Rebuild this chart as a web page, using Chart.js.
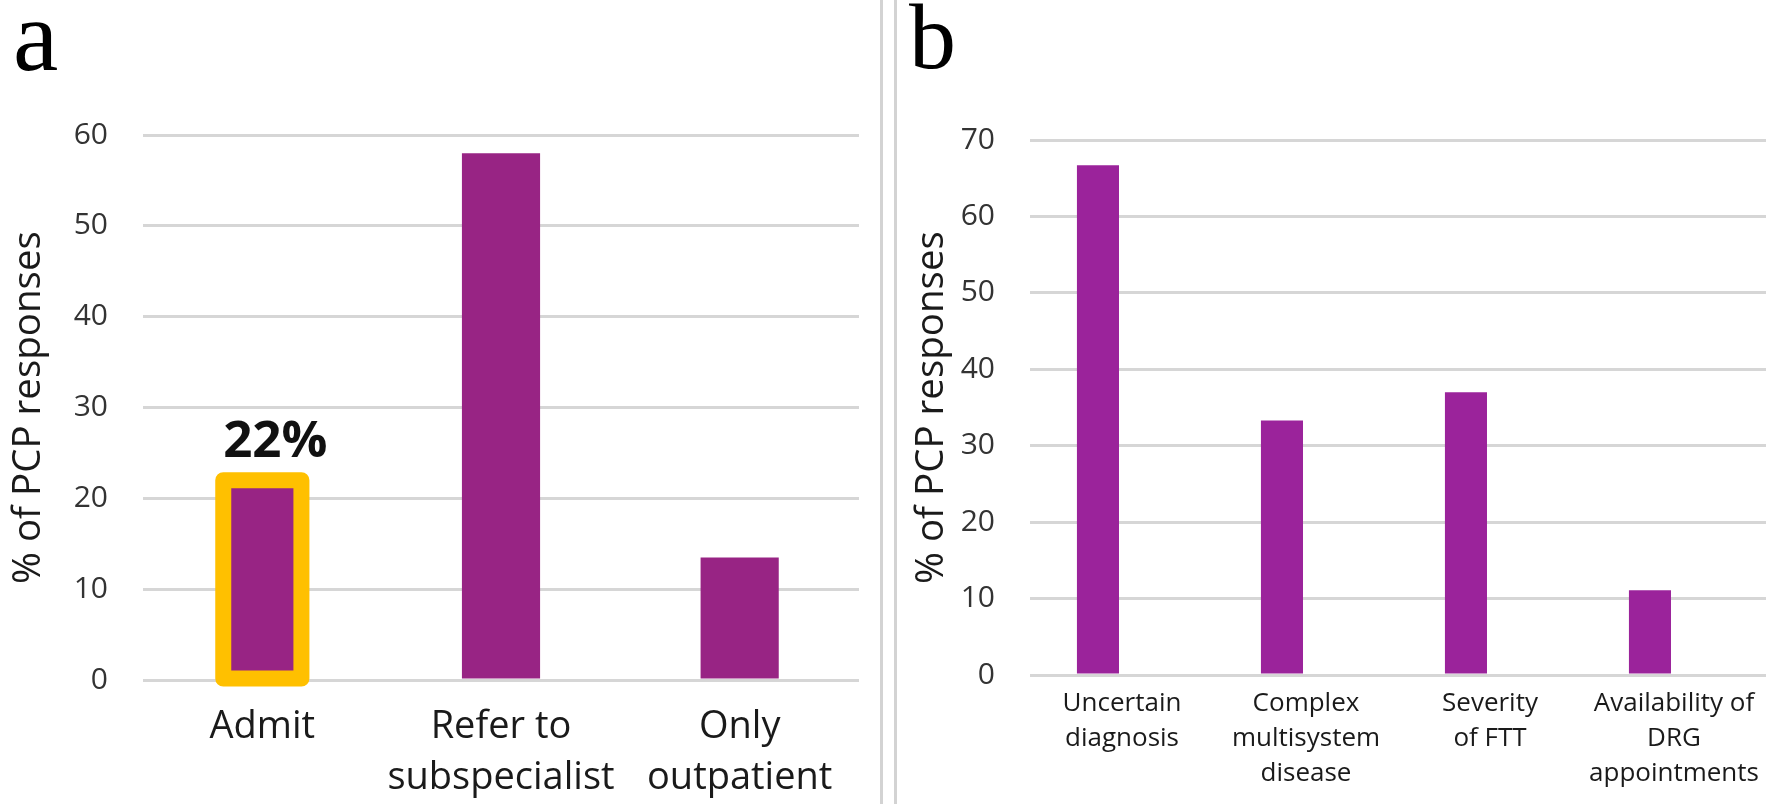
<!DOCTYPE html>
<html><head><meta charset="utf-8">
<script src="https://cdn.jsdelivr.net/npm/chart.js@4.4.1/dist/chart.umd.min.js"></script>
<style>
html,body{margin:0;padding:0;background:#fff;}
#wrap{position:relative;width:1772px;height:804px;overflow:hidden;background:#fff;}
#pa{position:absolute;left:0;top:0;width:880px;height:804px;}
#pb{position:absolute;left:897px;top:0;width:875px;height:804px;}
.sep{position:absolute;top:0;width:3px;height:804px;background:#d3d3d3;}
</style></head>
<body>
<div id="wrap">
  <div id="pa"><canvas id="ca"></canvas></div>
  <div class="sep" style="left:880px"></div>
  <div class="sep" style="left:894px"></div>
  <div id="pb"><canvas id="cb"></canvas></div>
</div>
<script>
// ---- data ----
const categoriesA = ['Admit', ['Refer to', 'subspecialist'], ['Only', 'outpatient']];
const valuesA = [22, 58, 13.5];
const ticksA = [0, 10, 20, 30, 40, 50, 60];
const highlightIndexA = 0;

const categoriesB = [['Uncertain', 'diagnosis'], ['Complex', 'multisystem', 'disease'], ['Severity', 'of FTT'], ['Availability of', 'DRG', 'appointments']];
const valuesB = [66.7, 33.3, 37.0, 11.1];
const ticksB = [0, 10, 20, 30, 40, 50, 60, 70];

const yTitle = '% of PCP responses';
const FONT = '"Open Sans", "DejaVu Sans", sans-serif';

function letterPlugin(letter, x, y, size) {
  return {
    id: 'letter_' + letter,
    afterDraw(chart) {
      const ctx = chart.ctx;
      ctx.save();
      ctx.font = size + 'px "Liberation Serif", "DejaVu Serif", serif';
      ctx.fillStyle = '#000';
      ctx.textAlign = 'left';
      ctx.textBaseline = 'alphabetic';
      ctx.fillText(letter, x, y);
      ctx.restore();
    }
  };
}

const highlightPlugin = {
  id: 'highlight',
  afterDatasetsDraw(chart) {
    const bar = chart.getDatasetMeta(0).data[highlightIndexA];
    const p = bar.getProps(['x', 'y', 'base', 'width'], true);
    const ctx = chart.ctx;
    ctx.save();
    ctx.strokeStyle = '#FFC000';
    ctx.lineWidth = 16;
    ctx.lineJoin = 'round';
    ctx.strokeRect(p.x - p.width / 2, p.y, p.width, p.base - p.y);
    ctx.font = 'bold 51px ' + FONT;
    ctx.fillStyle = '#111';
    ctx.textAlign = 'center';
    ctx.textBaseline = 'alphabetic';
    ctx.fillText(Math.round(valuesA[highlightIndexA]) + '%', p.x + 13, p.y - 23);
    ctx.restore();
  }
};

function yScale(max, tickList, width, titlePadTop) {
  return {
    min: 0, max: max,
    afterBuildTicks(s) { s.ticks = tickList.map(v => ({ value: v })); },
    grid: { color: '#d6d6d6', lineWidth: 3, drawTicks: false },
    border: { display: false },
    ticks: { font: { family: FONT, size: 30 }, color: '#333333', padding: 35 },
    title: { display: true, text: yTitle, color: '#1a1a1a', font: { family: FONT, size: 38.5 }, padding: { top: titlePadTop, bottom: 0 } },
    afterFit(s) { s.width = width; }
  };
}

function draw() {
  new Chart(document.getElementById('ca'), {
    type: 'bar',
    data: {
      labels: categoriesA,
      datasets: [{ data: valuesA, backgroundColor: '#982484', categoryPercentage: 0.5, barPercentage: 0.655 }]
    },
    options: {
      responsive: true, maintainAspectRatio: false, animation: false,
      layout: { padding: { left: 0, right: 21, top: 135, bottom: 0 } },
      plugins: { legend: { display: false }, tooltip: { enabled: false } },
      scales: {
        x: {
          grid: { display: false, drawTicks: false }, border: { display: false },
          ticks: { font: { family: FONT, size: 38, lineHeight: 1.33 }, color: '#1a1a1a', padding: 22, maxRotation: 0, autoSkip: false },
          afterFit(s) { s.height = 124; }
        },
        y: yScale(60, ticksA, 143, 6)
      }
    },
    plugins: [highlightPlugin, letterPlugin('a', 13, 70, 102)]
  });

  new Chart(document.getElementById('cb'), {
    type: 'bar',
    data: {
      labels: categoriesB,
      datasets: [
        { data: valuesB, backgroundColor: '#9B239B', categoryPercentage: 0.5225, barPercentage: 0.875 },
        { data: valuesB.map(() => null), backgroundColor: 'rgba(0,0,0,0)', categoryPercentage: 0.5225, barPercentage: 0.875 }
      ]
    },
    options: {
      responsive: true, maintainAspectRatio: false, animation: false,
      layout: { padding: { left: 0, right: 6, top: 140, bottom: 0 } },
      plugins: { legend: { display: false }, tooltip: { enabled: false } },
      scales: {
        x: {
          grid: { display: false, drawTicks: false }, border: { display: false },
          ticks: { font: { family: FONT, size: 26, lineHeight: 1.35 }, color: '#1a1a1a', padding: 11, maxRotation: 0, autoSkip: false },
          afterFit(s) { s.height = 129; }
        },
        y: yScale(70, ticksB, 133, 12)
      }
    },
    plugins: [letterPlugin('b', 12, 68, 94)]
  });
}

Promise.all([
  document.fonts.load('30px "Open Sans"'),
  document.fonts.load('bold 51px "Open Sans"'),
  document.fonts.load('100px "Liberation Serif"')
]).then(draw, draw);
</script>
</body></html>
